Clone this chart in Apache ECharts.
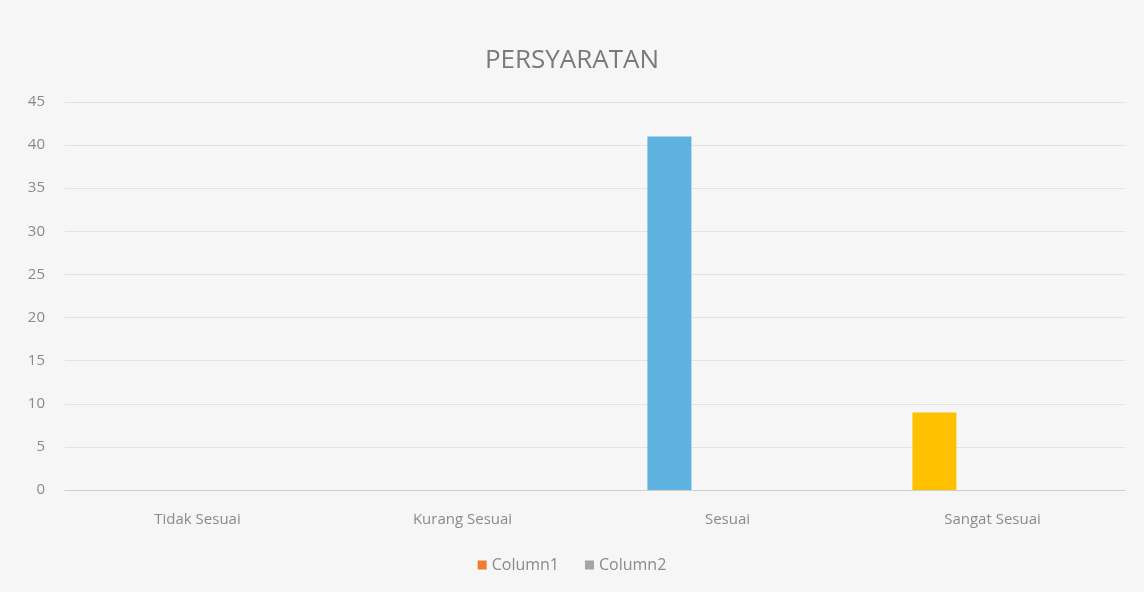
<!DOCTYPE html>
<html>
<head>
<meta charset="utf-8">
<script src="https://cdn.jsdelivr.net/npm/echarts@6/dist/echarts.min.js"></script>
<style>html,body{margin:0;padding:0;background:#f3f3f3;}#c{width:1144px;height:592px;}</style>
</head>
<body>
<div id="c"></div>
<script>
const categories = ['Tidak Sesuai', 'Kurang Sesuai', 'Sesuai', 'Sangat Sesuai'];
const persyaratan = [0, 0, 41, 9];
const column1 = [null, null, null, null];
const column2 = [null, null, null, null];
const yTicks = [0, 45, 5];
const pointColors = ['#5B9BD5', '#ED7D31', '#5DB2DF', '#FFC000'];

const chart = echarts.init(document.getElementById('c'));
chart.setOption({
  backgroundColor: '#f6f6f6',
  animation: false,
  title: {
    text: 'PERSYARATAN', left: 'center', top: 43,
    textStyle: { fontFamily: 'Open Sans', fontSize: 26, fontWeight: 'normal', color: '#7a7a7a' }
  },
  legend: {
    data: ['Column1', 'Column2'], bottom: 14, left: 'center',
    itemWidth: 9, itemHeight: 9, itemGap: 26, icon: 'rect',
    textStyle: { fontFamily: 'Open Sans', fontSize: 16, color: '#8a8a8a' }
  },
  grid: { left: 65, right: 19, top: 102, bottom: 102 },
  xAxis: {
    type: 'category', data: categories,
    axisLine: { lineStyle: { color: '#cfcfcf' } },
    axisTick: { show: false },
    axisLabel: { color: '#8a8a8a', fontFamily: 'Open Sans', fontSize: 15, margin: 22 }
  },
  yAxis: {
    type: 'value', min: yTicks[0], max: yTicks[1], interval: yTicks[2],
    axisLine: { show: false }, axisTick: { show: false },
    splitLine: { lineStyle: { color: '#e2e2e2' } },
    axisLabel: { color: '#8a8a8a', fontFamily: 'Open Sans', fontSize: 15, margin: 20 }
  },
  series: [
    {
      name: 'PERSYARATAN', type: 'bar', barWidth: 44, barGap: '32%',
      data: persyaratan.map((v, i) => ({ value: v, itemStyle: { color: pointColors[i] } }))
    },
    { name: 'Column1', type: 'bar', barWidth: 44, barGap: '32%', data: column1, itemStyle: { color: '#ED7D31' } },
    { name: 'Column2', type: 'bar', barWidth: 44, barGap: '32%', data: column2, itemStyle: { color: '#A5A5A5' } }
  ]
});
</script>
</body>
</html>
